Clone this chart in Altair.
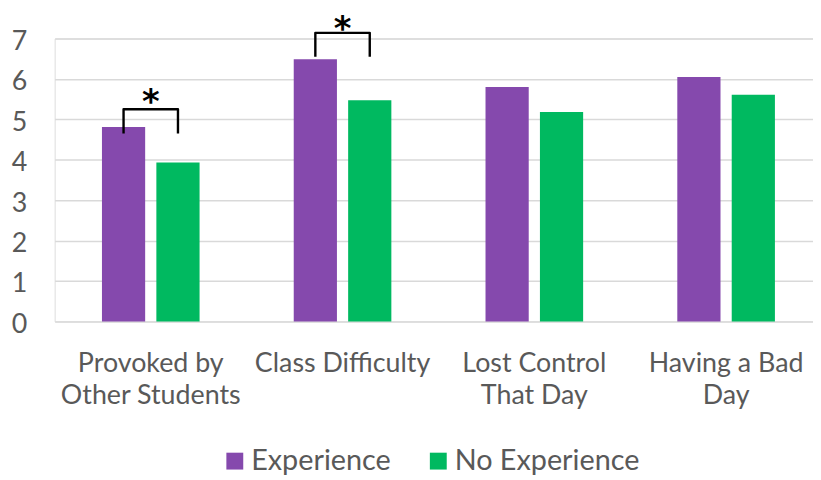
import altair as alt
import pandas as pd

# ---- data ----
categories = ["Provoked by|Other Students", "Class Difficulty", "Lost Control|That Day", "Having a Bad|Day"]
series = ["Experience", "No Experience"]
experience = [4.81, 6.49, 5.80, 6.05]
no_experience = [3.93, 5.47, 5.18, 5.61]
colors = ["#8549AD", "#00B960"]
y_ticks = [0, 1, 2, 3, 4, 5, 6, 7]

# significance brackets
sig_categories = [categories[0], categories[1]]
bracket_top = [5.25, 7.14]
bracket_leg_bottom = [4.65, 6.55]
star_y = [5.66, 7.45]

# ---- tables ----
rows = []
for c, e, n in zip(categories, experience, no_experience):
    rows.append({"category": c, "series": series[0], "value": e})
    rows.append({"category": c, "series": series[1], "value": n})
bars_df = pd.DataFrame(rows)

brows = []
for c, t, b in zip(sig_categories, bracket_top, bracket_leg_bottom):
    brows += [
        {"category": c, "series": series[0], "value": b, "step": 0},
        {"category": c, "series": series[0], "value": t, "step": 1},
        {"category": c, "series": series[1], "value": t, "step": 2},
        {"category": c, "series": series[1], "value": b, "step": 3},
    ]
bracket_df = pd.DataFrame(brows)
star_df = pd.DataFrame({"category": sig_categories, "value": star_y, "txt": ["*", "*"]})

FONT = "Lato"
GRAY = "#595959"

x_scale = alt.Scale(domain=categories, paddingInner=0.491, paddingOuter=0.2226, align=0.554)
xo_scale = alt.Scale(domain=series, paddingInner=0.206, paddingOuter=0)
y_scale = alt.Scale(domain=[0, 7], nice=False)

x_enc = alt.X(
    "category:N",
    scale=x_scale,
    axis=alt.Axis(
        title=None,
        labelExpr="split(datum.label, '|')",
        labelAngle=0,
        labelFont=FONT,
        labelFontSize=27,
        labelColor=GRAY,
        labelLineHeight=33,
        labelPadding=29,
        labelLimit=0,
        domain=False,
        ticks=False,
        grid=False,
    ),
)
y_enc = alt.Y(
    "value:Q",
    scale=y_scale,
    axis=alt.Axis(
        title=None,
        values=y_ticks,
        labelFont=FONT,
        labelFontSize=27,
        labelColor=GRAY,
        labelPadding=28,
        labelOffset=3,
        domain=False,
        ticks=False,
        gridColor="#D9D9D9",
        gridWidth=1.5,
    ),
)

bars = alt.Chart(bars_df).mark_bar().encode(
    x=x_enc,
    xOffset=alt.XOffset("series:N", scale=xo_scale),
    y=y_enc,
    color=alt.Color(
        "series:N",
        scale=alt.Scale(domain=series, range=colors),
        legend=alt.Legend(
            title=None,
            orient="none",
            direction="horizontal",
            legendX=167,
            legendY=411,
            symbolType="square",
            symbolSize=289,
            symbolStrokeWidth=0,
            labelFont=FONT,
            labelFontSize=29,
            labelColor=GRAY,
            labelOffset=2,
            labelLimit=0,
            columnPadding=33,
        ),
    ),
)

brackets = alt.Chart(bracket_df).mark_line(
    color="black", strokeWidth=2.4, strokeJoin="round"
).encode(
    x=alt.X("category:N", scale=x_scale),
    xOffset=alt.XOffset("series:N", scale=xo_scale),
    y=alt.Y("value:Q", scale=y_scale),
    detail="category:N",
    order="step:Q",
)

stars = alt.Chart(star_df).mark_text(
    font="DejaVu Sans", fontSize=34, fontWeight="bold", color="black", baseline="middle", dy=10
).encode(
    x=alt.X("category:N", scale=x_scale),
    y=alt.Y("value:Q", scale=y_scale),
    text="txt:N",
)

chart = (
    alt.layer(bars, brackets, stars)
    .properties(
        width=764,
        height=285,
        autosize=alt.AutoSizeParams(type="none"),
        padding={"left": 47, "top": 29, "right": 0, "bottom": 156},
    )
    .configure_view(stroke=None)
    .configure(background="white")
)

chart.save("out.html", embed_options={"renderer": "svg", "actions": False})
